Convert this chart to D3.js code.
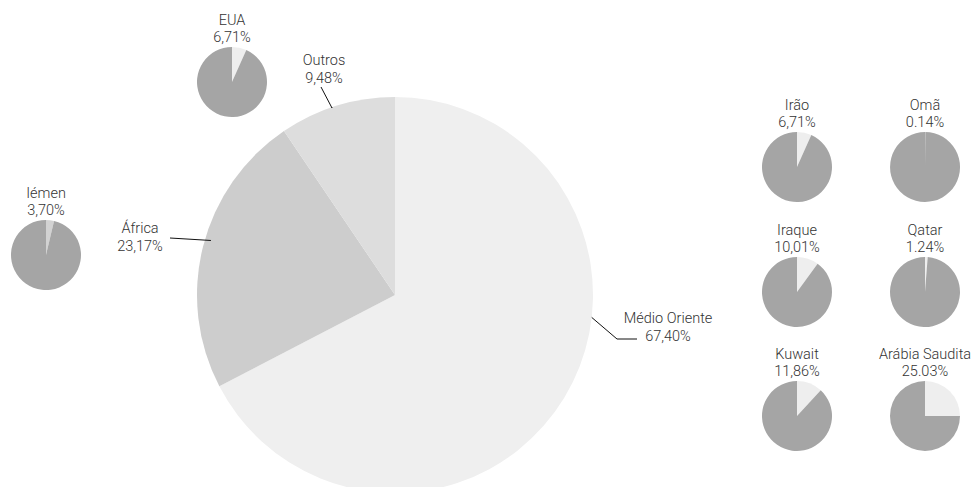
<!DOCTYPE html>
<html lang="pt">
<head>
<meta charset="utf-8">
<script src="https://d3js.org/d3.v7.min.js"></script>
<style>
  body { margin: 0; background: #fff; }
  text { font-family: Roboto, "Noto Sans", sans-serif; }
</style>
</head>
<body>
<div id="chart"></div>
<script>
// regions (big pie)
const regions = ["Médio Oriente", "África", "Outros"];
const regionValues = [67.40, 23.17, 9.48];
const regionLabels = ["67,40%", "23,17%", "9,48%"];

// countries (small pies)
const countries = ["EUA", "Iémen", "Irão", "Omã", "Iraque", "Qatar", "Kuwait", "Arábia Saudita"];
const countryValues = [6.71, 3.70, 6.71, 0.14, 10.01, 1.24, 11.86, 25.03];
const countryLabels = ["6,71%", "3,70%", "6,71%", "0.14%", "10,01%", "1.24%", "11,86%", "25.03%"];

const width = 975, height = 487;

const svg = d3.select("#chart")
  .append("svg")
    .attr("width", width)
    .attr("height", height)
    .style("display", "block");

// title, mostly cut off by the top edge
svg.append("text")
  .attr("x", 8)
  .attr("y", -6)
  .attr("font-size", 22)
  .attr("font-weight", "bold")
  .attr("fill", "#111")
  .text("Origem das importações de petróleo bruto por região e por país");

// big pie
const cx = 395, cy = 295, R = 198;
const regionColor = d3.scaleOrdinal()
  .domain(regions)
  .range(["#efefef", "#cdcdcd", "#dddddd"]);

const pie = d3.pie().sort(null).value(d => d.value);
const arc = d3.arc().innerRadius(0).outerRadius(R);

const regionData = regions.map((name, i) => ({name, value: regionValues[i], label: regionLabels[i]}));

const big = svg.append("g").attr("transform", `translate(${cx},${cy})`);
big.selectAll("path")
  .data(pie(regionData))
  .join("path")
    .attr("d", arc)
    .attr("fill", d => regionColor(d.data.name));

// label connectors (angle in degrees on the rim, then elbow/end offsets)
const labelLayout = {
  "Médio Oriente": {angle: 96.5, elbow: [222, 44], end: [242, 44], tx: 273, ty: 28},
  "África":        {angle: 286.5, inset: 6, elbow: [-225, -57], end: [-225, -57], tx: -255, ty: -62},
  "Outros":        {angle: 341.4, elbow: [-63, -187], end: [-74, -208], tx: -71, ty: -230}
};

const labels = big.selectAll("g.lbl")
  .data(pie(regionData))
  .join("g")
    .attr("class", "lbl");

labels.append("polyline")
  .attr("fill", "none")
  .attr("stroke", "#111")
  .attr("stroke-width", 1)
  .attr("points", d => {
    const l = labelLayout[d.data.name];
    const p = d3.pointRadial(l.angle * Math.PI / 180, R - (l.inset || 0));
    return [p, l.elbow, l.end].map(q => q.join(",")).join(" ");
  });

labels.append("text")
  .attr("text-anchor", "middle")
  .attr("font-size", 14.5)
  .attr("font-weight", 300)
  .attr("fill", "#333")
  .each(function(d) {
    const l = labelLayout[d.data.name];
    const t = d3.select(this);
    t.append("tspan").attr("x", l.tx).attr("y", l.ty).text(d.data.name);
    t.append("tspan").attr("x", l.tx).attr("y", l.ty + 18).text(d.data.label);
  });

// small pies
const r = 35;
const smallArc = d3.arc().innerRadius(0).outerRadius(r);
const smallPie = d3.pie().sort(null);
const centers = {
  "EUA": [232, 82], "Iémen": [46, 255],
  "Irão": [797, 167], "Omã": [925, 167],
  "Iraque": [797, 292], "Qatar": [925, 292],
  "Kuwait": [797, 416], "Arábia Saudita": [925, 416]
};
const sliceColor = d => d === "Iémen" ? "#d2d2d2" : "#eeeeee";

const small = svg.selectAll("g.small")
  .data(countries.map((name, i) => ({name, value: countryValues[i], label: countryLabels[i]})))
  .join("g")
    .attr("class", "small")
    .attr("transform", d => `translate(${centers[d.name][0]},${centers[d.name][1]})`);

small.selectAll("path")
  .data(d => smallPie([d.value, 100 - d.value]).map((s, j) => ({s, j, name: d.name})))
  .join("path")
    .attr("d", d => smallArc(d.s))
    .attr("fill", d => d.j === 0 ? sliceColor(d.name) : "#a5a5a5");

small.append("text")
  .attr("text-anchor", "middle")
  .attr("font-size", 14.5)
  .attr("font-weight", 300)
  .attr("fill", "#333")
  .each(function(d) {
    const t = d3.select(this);
    t.append("tspan").attr("x", 0).attr("y", -57).text(d.name);
    t.append("tspan").attr("x", 0).attr("y", -40).text(d.label);
  });
</script>
</body>
</html>
